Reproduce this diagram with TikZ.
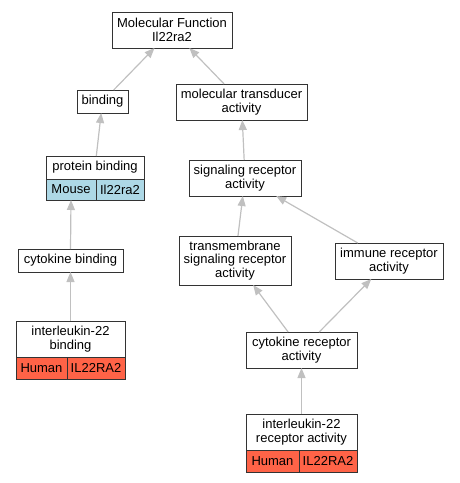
\documentclass[tikz,border=0pt]{standalone}
\definecolor{go_line}{RGB}{51, 51, 51}
\definecolor{go_gray}{RGB}{192, 192, 192}
\definecolor{go_mouse}{RGB}{173, 216, 230}
\definecolor{go_human}{RGB}{255, 99, 71}
\usepackage{fontspec}
\setmainfont{Liberation Sans}
\usepackage{tikz}
\usetikzlibrary{arrows.meta, positioning}

\begin{document}
\begin{tikzpicture}[x=1pt, y=-1pt,
        every node/.style={font=\fontsize{13}{13.4}\selectfont, inner sep=0pt, outer sep=0pt},
        box/.style={draw=go_line, fill=white, line width=1pt, align=center},
        mouse/.style={box, fill=go_mouse, minimum height=21pt},
        human/.style={box, fill=go_human, minimum height=22pt},
        link/.style={go_gray, line width=1.2pt, -{Triangle[length=10pt, width=8pt]}},
      ]
        \useasboundingbox (0,0) rectangle (459,483);

        \node[box, minimum width=120pt, minimum height=36pt] (mf) at (172,30)    {Molecular Function\\Il22ra2};
        \node[box, minimum width=51pt,  minimum height=23pt] (bd) at (102.5,101.5) {binding};
        \node[box, minimum width=131pt, minimum height=36pt] (mt) at (241.5,102) {molecular transducer\\activity};
        \node[box, minimum width=98pt,  minimum height=23pt] (pb) at (95,167.5)  {protein binding};
        \node[mouse, minimum width=50pt] (pbs) at (71,189.5)  {Mouse};
        \node[mouse, minimum width=48pt] (pbg) at (120,189.5) {Il22ra2};
        \node[box, minimum width=112pt, minimum height=36pt] (sr) at (245,178)   {signaling receptor\\activity};
        \node[box, minimum width=105pt, minimum height=23pt] (cb) at (70.5,260.5) {cytokine binding};
        \node[box, minimum width=112pt, minimum height=49pt] (ts) at (235,260.5) {transmembrane\\signaling receptor\\activity};
        \node[box, minimum width=108pt, minimum height=36pt] (ir) at (389,261)   {immune receptor\\activity};
        \node[box, minimum width=109pt, minimum height=36pt] (ib) at (70.5,339)  {interleukin-22\\binding};
        \node[human, minimum width=51pt] (ibs) at (41.5,368) {Human};
        \node[human, minimum width=58pt] (ibg) at (96,368)   {IL22RA2};
        \node[box, minimum width=111pt, minimum height=36pt] (cr) at (301.5,350) {cytokine receptor\\activity};
        \node[box, minimum width=111pt, minimum height=36pt] (il) at (301.5,432) {interleukin-22\\receptor activity};
        \node[human, minimum width=53pt] (ils) at (272.5,461) {Human};
        \node[human, minimum width=58pt] (ilg) at (328,461)   {IL22RA2};

        \draw[link] (bd) -- (mf);
        \draw[link] (mt) -- (mf);
        \draw[link] (pb) -- (bd);
        \draw[link] (sr) -- (mt);
        \draw[link] (cb.north) -- (pbs.south);
        \draw[link] (ts) -- (sr);
        \draw[link] (ir) -- (sr);
        \draw[link] (ib.north) -- (cb.south);
        \draw[link] (cr) -- (ts);
        \draw[link] (cr) -- (ir);
        \draw[link] (il.north) -- (cr.south);
      \end{tikzpicture}
\end{document}
